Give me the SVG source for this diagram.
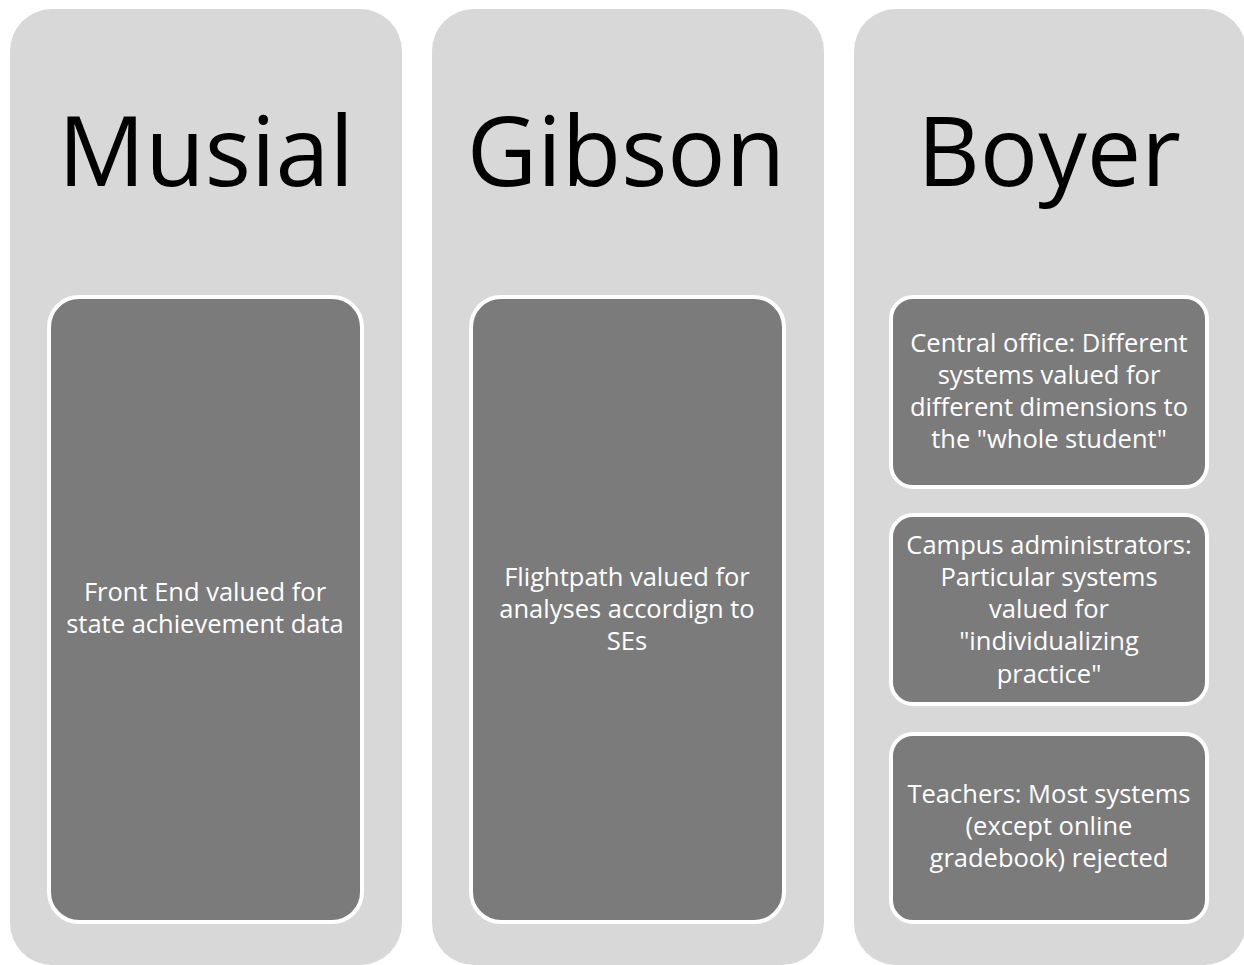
<svg xmlns="http://www.w3.org/2000/svg" width="1244" height="965" viewBox="0 0 1244 965">
<style>
.col{fill:#d8d8d8}
.box{fill:#7b7b7b;stroke:#ffffff;stroke-width:4}
.title{font-family:"Open Sans","Liberation Sans",Arial,sans-serif;font-size:97px;fill:#000;text-anchor:middle}
.t{font-family:"Open Sans","Liberation Sans",Arial,sans-serif;font-size:25.5px;fill:#ffffff;text-anchor:middle}
</style>
<rect width="1244" height="965" fill="#ffffff"/>
<g id="musial">
<rect class="col" x="10" y="9" width="392" height="956" rx="42"/>
<text class="title" x="206" y="186">Musial</text>
<rect class="box" x="49" y="297" width="313" height="625" rx="30"/>
<text class="t" x="205" y="601">Front End valued for</text>
<text class="t" x="205" y="633">state achievement data</text>
</g>
<g id="gibson">
<rect class="col" x="432" y="9" width="392" height="956" rx="42"/>
<text class="title" x="626" y="186">Gibson</text>
<rect class="box" x="471" y="297" width="313" height="625" rx="30"/>
<text class="t" x="627" y="586">Flightpath valued for</text>
<text class="t" x="627" y="618">analyses accordign to</text>
<text class="t" x="627" y="650">SEs</text>
</g>
<g id="boyer">
<rect class="col" x="854" y="9" width="392" height="956" rx="42"/>
<text class="title" x="1049" y="186">Boyer</text>
</g>
<g id="boyer-central">
<rect class="box" x="891" y="297" width="316" height="190" rx="22"/>
<text class="t" x="1049" y="352">Central office: Different</text>
<text class="t" x="1049" y="384">systems valued for</text>
<text class="t" x="1049" y="416">different dimensions to</text>
<text class="t" x="1049" y="448">the "whole student"</text>
</g>
<g id="boyer-campus">
<rect class="box" x="891" y="515" width="316" height="189" rx="22"/>
<text class="t" x="1049" y="554">Campus administrators:</text>
<text class="t" x="1049" y="586">Particular systems</text>
<text class="t" x="1049" y="618">valued for</text>
<text class="t" x="1049" y="650">"individualizing</text>
<text class="t" x="1049" y="683">practice"</text>
</g>
<g id="boyer-teachers">
<rect class="box" x="891" y="734" width="316" height="188" rx="22"/>
<text class="t" x="1049" y="803">Teachers: Most systems</text>
<text class="t" x="1049" y="835">(except online</text>
<text class="t" x="1049" y="867">gradebook) rejected</text>
</g>
<g id="connectors"/>
</svg>
